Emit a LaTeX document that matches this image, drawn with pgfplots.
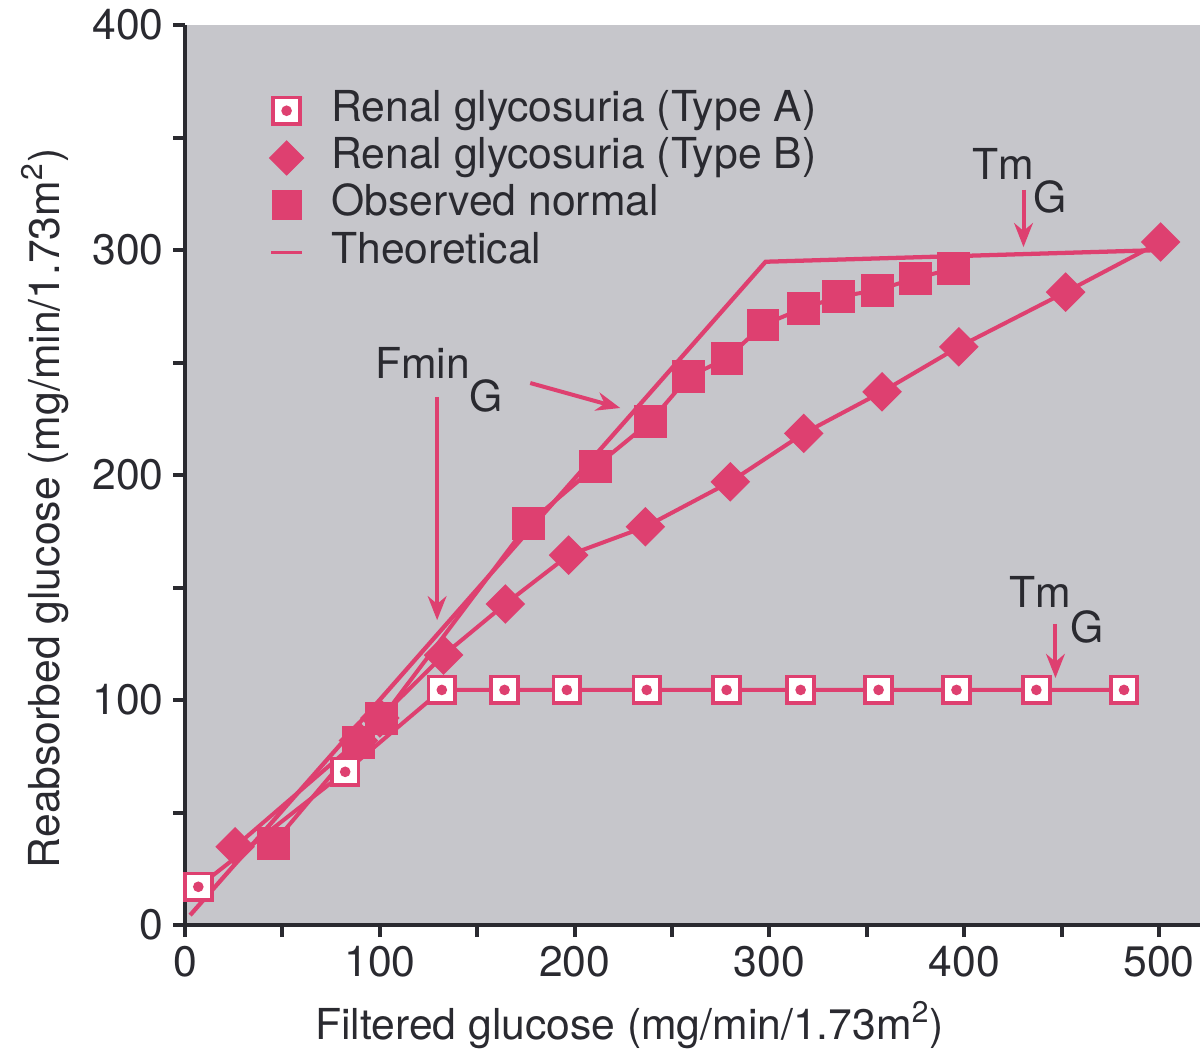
\documentclass[border=0pt]{standalone}
\usepackage{fontspec}
\setmainfont{TeX Gyre Heros}
\usepackage{pgfplots}
\pgfplotsset{compat=1.18}
\usetikzlibrary{arrows.meta}
\definecolor{pk}{RGB}{222,64,112}
\definecolor{bg}{RGB}{198,198,203}
\definecolor{ink}{RGB}{42,42,48}
\pgfdeclareplotmark{sqdot}{%
  \pgfpathrectangle{\pgfqpoint{-\pgfplotmarksize}{-\pgfplotmarksize}}{\pgfqpoint{2\pgfplotmarksize}{2\pgfplotmarksize}}%
  \pgfusepathqfillstroke
  \begin{pgfscope}%
  \pgfsetfillcolor{pk}%
  \pgfpathcircle{\pgfpointorigin}{0.4\pgfplotmarksize}%
  \pgfusepathqfill
  \end{pgfscope}}
\pgfplotsset{shortline/.style={legend image code/.code={\draw[##1] (0.1cm,0cm) -- (0.5cm,0cm);}}}
\newcommand{\bigf}{\fontsize{16}{19}\selectfont}
\begin{document}
\begin{tikzpicture}
\begin{axis}[
  scale only axis, width=380.6pt, height=337.5pt,
  xmin=0, xmax=521, ymin=0, ymax=400,
  axis x line=bottom, axis y line=left,
  axis line style={-, ink, line width=1.5pt},
  axis background/.style={fill=bg},
  xtick={0,100,...,500}, ytick={0,100,...,400},
  minor xtick={50,150,...,450}, minor ytick={50,150,...,350},
  tick align=outside, major tick length=4.5pt, minor tick length=4.5pt,
  every tick/.style={ink, line width=1.5pt},
  ticklabel style={font=\bigf, text=ink},
  /pgf/number format/assume math mode=true,
  xlabel={Filtered glucose (mg/min/1.73m\textsuperscript{2})},
  ylabel={Reabsorbed glucose (mg/min/1.73m\textsuperscript{2})},
  label style={font=\bigf, text=ink},
  xlabel style={at={(axis description cs:0.438,-0.127)}, anchor=base},
  ylabel style={at={(axis description cs:-0.138,0.463)}, anchor=center},
  legend style={at={(axis cs:39,375)}, anchor=north west, draw=none, fill=none,
    font=\bigf, text=ink, column sep=9pt,
    nodes={inner sep=1.35pt, text height=11.5pt, text depth=3.5pt}},
  legend cell align=left,
  clip=false,
]
% Theoretical
\addplot[pk, line width=1.6pt, forget plot] coordinates {(2.6,4.4) (298,294.8) (500.8,300)};
% Type B
\addplot[pk, line width=1.5pt, mark=square*, mark size=4.5pt, mark options={rotate=45, fill=pk, draw=pk}, forget plot]
 coordinates {(25.7,34.8) (89,82) (100,92) (132.7,120) (164.4,142.7) (196.9,164.4) (236.3,177) (279.9,197) (317.6,218.5) (357.8,237) (397.2,257) (452,281.3) (500.8,303.6)};
% Observed normal
\addplot[pk, line width=1.5pt, mark=square*, mark size=5.4pt, mark options={fill=pk, draw=pk}, forget plot]
 coordinates {(45.4,36.3) (89,81) (101,91.9) (176.3,178.5) (210.6,203.7) (238.8,223.7) (258.5,243.7) (278.2,251.9) (296.7,266.7) (317.3,274.1) (335.5,279.2) (355.3,282.2) (374.9,287.4) (394.6,291.8)};
% Type A
\addplot[pk, line width=1.5pt, mark=sqdot, mark size=5pt, mark options={fill=white, draw=pk, line width=1.4pt}, forget plot]
 coordinates {(6.8,17) (82.2,68.1) (131.8,104.5) (164,104.5) (196,104.5) (237,104.5) (278,104.5) (316,104.5) (356,104.5) (396,104.5) (437,104.5) (482,104.5)};
\addlegendimage{only marks, mark=sqdot, mark size=5pt, mark options={fill=white, draw=pk, line width=1.4pt}}
\addlegendentry{Renal glycosuria (Type A)}
\addlegendimage{only marks, mark=square*, mark size=4.5pt, mark options={rotate=45, fill=pk, draw=pk}}
\addlegendentry{Renal glycosuria (Type B)}
\addlegendimage{only marks, mark=square*, mark size=5.4pt, mark options={fill=pk, draw=pk}}
\addlegendentry{Observed normal}
\addlegendimage{pk, line width=1.4pt, shortline}
\addlegendentry{Theoretical}
% annotations
\node[font=\bigf, text=ink] at (axis cs:420,338.2) {Tm};
\node[font=\bigf, text=ink] at (axis cs:444,323.6) {G};
\draw[pk, line width=1.5pt, -{Stealth[length=9pt,width=7pt]}] (axis cs:430.4,326.7) -- (axis cs:430.4,301.3);
\node[font=\bigf, text=ink] at (axis cs:439,148) {Tm};
\node[font=\bigf, text=ink] at (axis cs:463,132.4) {G};
\draw[pk, line width=1.5pt, -{Stealth[length=9pt,width=7pt]}] (axis cs:446.8,134) -- (axis cs:446.8,109.8);
\node[font=\bigf, text=ink] at (axis cs:122,250) {Fmin};
\node[font=\bigf, text=ink] at (axis cs:154.6,235) {G};
\draw[pk, line width=1.5pt, -{Stealth[length=9pt,width=7pt]}] (axis cs:129.4,234.7) -- (axis cs:129.4,135.5);
\draw[pk, line width=1.5pt, -{Stealth[length=9pt,width=7pt]}] (axis cs:177.2,240.9) -- (axis cs:223.4,229.8);
\end{axis}
\pgfresetboundingbox
\path[use as bounding box] ([xshift=-69.4pt,yshift=-51pt]current axis.south west) rectangle ([yshift=9.4pt]current axis.north east);
\end{tikzpicture}
\end{document}
